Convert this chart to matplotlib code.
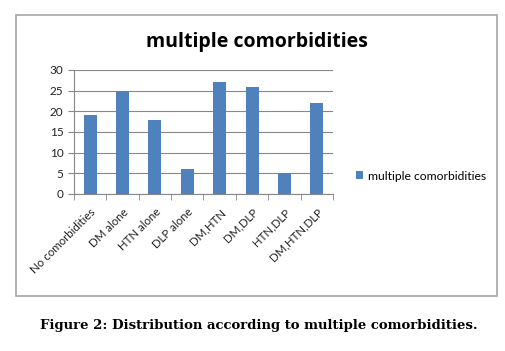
import numpy as np
import matplotlib.pyplot as plt
from matplotlib.patches import Rectangle

# data
categories = ['No comorbidities', 'DM alone', 'HTN alone', 'DLP alone',
              'DM,HTN', 'DM,DLP', 'HTN,DLP', 'DM,HTN,DLP']
counts = [19, 25, 18, 6, 27, 26, 5, 22]
series_name = 'multiple comorbidities'

bar_color = '#4F81BD'
grid_color = '#878787'

fig = plt.figure(figsize=(5.06, 3.51), dpi=100)
fig.patch.set_facecolor('white')

# chart frame
fig.patches.append(Rectangle((16/506, 1 - 296/351), (497-16)/506, (296-15)/351,
                             transform=fig.transFigure, fill=False,
                             edgecolor='#a6a6a6', lw=1.2))

ax = fig.add_axes([74/506, 1 - 194/351, (333-74)/506, (194-70)/351])
x = np.arange(len(categories))
ax.bar(x, counts, width=0.4, color=bar_color, label=series_name, zorder=3)

ax.set_ylim(0, 30)
ax.set_xlim(-0.5, len(categories) - 0.5)
ax.set_yticks(np.arange(0, 31, 5))
ax.yaxis.grid(True, color=grid_color, lw=0.8, zorder=0)

# ticks sit between categories, labels at category centres
ax.set_xticks(np.arange(-0.5, len(categories)), minor=True)
ax.set_xticks(x)
ax.set_xticklabels(categories, rotation=45, ha='right', rotation_mode='anchor',
                   fontsize=8.3, family='Lato', color='#222222')
ax.tick_params(axis='x', which='major', length=0, pad=9)
ax.tick_params(axis='x', which='minor', length=4, color=grid_color)
ax.tick_params(axis='y', length=4, color=grid_color, labelsize=8.5,
               labelcolor='#222222')
for lab in ax.get_yticklabels():
    lab.set_family('Lato')

for side in ['top', 'right']:
    ax.spines[side].set_visible(False)
ax.spines['left'].set_color(grid_color)
ax.spines['bottom'].set_color(grid_color)

fig.text(257/506, 1 - 42/351, 'multiple comorbidities', ha='center', va='center',
         fontsize=14, fontweight='bold', family='Open Sans')

leg = fig.legend(loc='center left', bbox_to_anchor=(345/506, 1 - 176/351),
                 frameon=False, handlelength=0.6, handleheight=0.6,
                 handletextpad=0.4, prop={'family': 'Lato', 'size': 8.7})

fig.text(259/506, 1 - 326/351, 'Figure 2: Distribution according to multiple comorbidities.',
         ha='center', va='center', fontsize=9.5, fontweight='bold',
         family='DejaVu Serif')

fig.savefig('out.png', dpi=100)
